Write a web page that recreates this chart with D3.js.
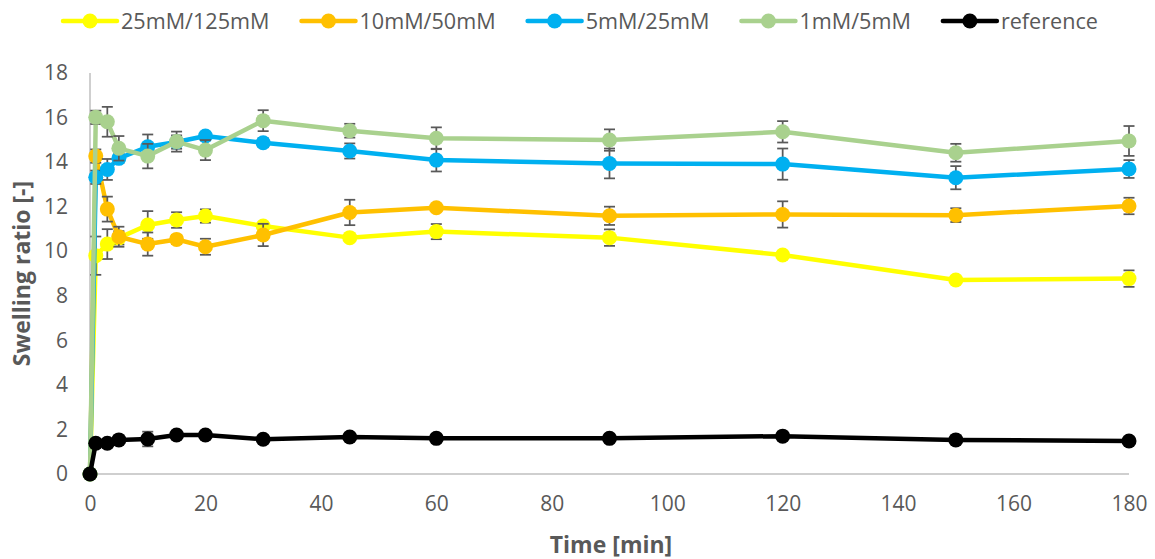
<!DOCTYPE html>
<html>
<head>
<meta charset="utf-8">
<script src="https://cdn.jsdelivr.net/npm/d3@7/dist/d3.min.js"></script>
<style>
  html, body { margin: 0; padding: 0; background: #ffffff; }
  svg { display: block; }
  text { font-family: "Open Sans", "Noto Sans", sans-serif; fill: #595959; }
</style>
</head>
<body>
<svg id="chart" width="1155" height="559"></svg>
<script>
// Sampling times [min]
const times = [0, 1, 3, 5, 10, 15, 20, 30, 45, 60, 90, 120, 150, 180];

// Swelling ratio per solution, with standard deviations
const seriesNames = ["25mM/125mM", "10mM/50mM", "5mM/25mM", "1mM/5mM", "reference"];
const seriesColors = ["#FFFF00", "#FFC000", "#00B0F0", "#A9D18E", "#000000"];

const ratio25 = [0, 9.80, 10.32, 10.60, 11.18, 11.40, 11.58, 11.13, 10.61, 10.88, 10.61, 9.83, 8.71, 8.77];
const err25   = [0, 0.86, 0.67, 0.30, 0.62, 0.35, 0.30, 0.15, 0.10, 0.34, 0.37, 0.12, 0.08, 0.37];

const ratio10 = [0, 14.27, 11.89, 10.65, 10.32, 10.53, 10.20, 10.73, 11.74, 11.95, 11.59, 11.65, 11.62, 12.03];
const err10   = [0, 0.30, 0.56, 0.45, 0.52, 0.20, 0.36, 0.50, 0.57, 0.10, 0.41, 0.59, 0.31, 0.37];

const ratio5  = [0, 13.32, 13.67, 14.17, 14.69, 14.90, 15.17, 14.87, 14.50, 14.09, 13.94, 13.91, 13.30, 13.69];
const err5    = [0, 0.30, 0.47, 0.20, 0.55, 0.30, 0.15, 0.20, 0.34, 0.51, 0.67, 0.70, 0.52, 0.40];

const ratio1  = [0, 16.01, 15.81, 14.62, 14.27, 14.92, 14.54, 15.86, 15.41, 15.07, 14.99, 15.36, 14.42, 14.95];
const err1    = [0, 0.30, 0.67, 0.55, 0.55, 0.45, 0.45, 0.47, 0.31, 0.49, 0.48, 0.48, 0.40, 0.67];

const ratioRef = [0, 1.38, 1.38, 1.53, 1.57, 1.75, 1.75, 1.56, 1.66, 1.60, 1.60, 1.70, 1.53, 1.48];
const errRef   = [0, 0.10, 0.10, 0.10, 0.33, 0.10, 0.10, 0.10, 0.10, 0.10, 0.10, 0.10, 0.10, 0.10];

const xTicks = [0, 20, 40, 60, 80, 100, 120, 140, 160, 180];
const yTicks = [0, 2, 4, 6, 8, 10, 12, 14, 16, 18];
const xTitle = "Time [min]";
const yTitle = "Swelling ratio [-]";

const allValues = [ratio25, ratio10, ratio5, ratio1, ratioRef];
const allErrors = [err25, err10, err5, err1, errRef];

const series = seriesNames.map((name, i) => ({
  name,
  color: seriesColors[i],
  points: times.map((t, j) => ({ t, v: allValues[i][j], e: allErrors[i][j] }))
}));

const svg = d3.select("#chart");
const x = d3.scaleLinear().domain([0, 180]).range([90, 1129]);
const y = d3.scaleLinear().domain([0, 18]).range([474, 73]);

// Axis lines
const axisColor = "#BFBFBF";
svg.append("line")
  .attr("x1", x(0)).attr("x2", x(180))
  .attr("y1", y(0)).attr("y2", y(0))
  .attr("stroke", axisColor).attr("stroke-width", 1.5);
svg.append("line")
  .attr("x1", x(0)).attr("x2", x(0))
  .attr("y1", y(0)).attr("y2", y(18))
  .attr("stroke", axisColor).attr("stroke-width", 1.5);

// Tick labels via d3 axes (tick marks and domain hidden)
const xAxis = svg.append("g")
  .attr("transform", `translate(0,${y(0)})`)
  .call(d3.axisBottom(x).tickValues(xTicks).tickSize(0).tickPadding(22));
xAxis.select(".domain").remove();
xAxis.selectAll("text")
  .style("font-family", '"Open Sans", sans-serif')
  .style("font-size", "21px").attr("fill", "#595959");

const yAxis = svg.append("g")
  .attr("transform", `translate(${x(0)},0)`)
  .call(d3.axisLeft(y).tickValues(yTicks).tickSize(0).tickPadding(22));
yAxis.select(".domain").remove();
yAxis.selectAll("text")
  .style("font-family", '"Open Sans", sans-serif')
  .style("font-size", "21px").attr("fill", "#595959");

// Axis titles
svg.append("text")
  .attr("x", 611).attr("y", 553)
  .attr("text-anchor", "middle")
  .style("font-size", "23px").style("font-weight", "bold")
  .text(xTitle);
svg.append("text")
  .attr("transform", `translate(30,${(y(0) + y(18)) / 2}) rotate(-90)`)
  .attr("text-anchor", "middle")
  .style("font-size", "23px").style("font-weight", "bold")
  .text(yTitle);

// Series: line, error bars, markers
const line = d3.line().x(d => x(d.t)).y(d => y(d.v));
const errColor = "#595959";
const capHalf = 5.5;

series.forEach(s => {
  const g = svg.append("g");
  g.append("path")
    .datum(s.points)
    .attr("d", line)
    .attr("fill", "none")
    .attr("stroke", s.color)
    .attr("stroke-width", 4.5)
    .attr("stroke-linejoin", "round");

  const eb = g.selectAll(".err").data(s.points.filter(d => d.e > 0)).enter().append("g");
  eb.append("line")
    .attr("x1", d => x(d.t)).attr("x2", d => x(d.t))
    .attr("y1", d => y(d.v + d.e)).attr("y2", d => y(d.v - d.e))
    .attr("stroke", errColor).attr("stroke-width", 1.75);
  eb.append("line")
    .attr("x1", d => x(d.t) - capHalf).attr("x2", d => x(d.t) + capHalf)
    .attr("y1", d => y(d.v + d.e)).attr("y2", d => y(d.v + d.e))
    .attr("stroke", errColor).attr("stroke-width", 1.75);
  eb.append("line")
    .attr("x1", d => x(d.t) - capHalf).attr("x2", d => x(d.t) + capHalf)
    .attr("y1", d => y(d.v - d.e)).attr("y2", d => y(d.v - d.e))
    .attr("stroke", errColor).attr("stroke-width", 1.75);

  g.selectAll("circle").data(s.points).enter().append("circle")
    .attr("cx", d => x(d.t)).attr("cy", d => y(d.v))
    .attr("r", 7.5)
    .attr("fill", s.color);
});

// Legend
const legend = svg.append("g");
let cursor = 63;
const legendY = 21;
series.forEach(s => {
  const item = legend.append("g");
  item.append("line")
    .attr("x1", cursor).attr("x2", cursor + 54)
    .attr("y1", legendY).attr("y2", legendY)
    .attr("stroke", s.color).attr("stroke-width", 4.5)
    .attr("stroke-linecap", "round");
  item.append("circle")
    .attr("cx", cursor + 27).attr("cy", legendY).attr("r", 7.5)
    .attr("fill", s.color);
  const t = item.append("text")
    .attr("x", cursor + 58).attr("y", legendY + 8)
    .style("font-size", "21.6px")
    .text(s.name);
  cursor += 58 + t.node().getComputedTextLength() + 32;
});
</script>
</body>
</html>
